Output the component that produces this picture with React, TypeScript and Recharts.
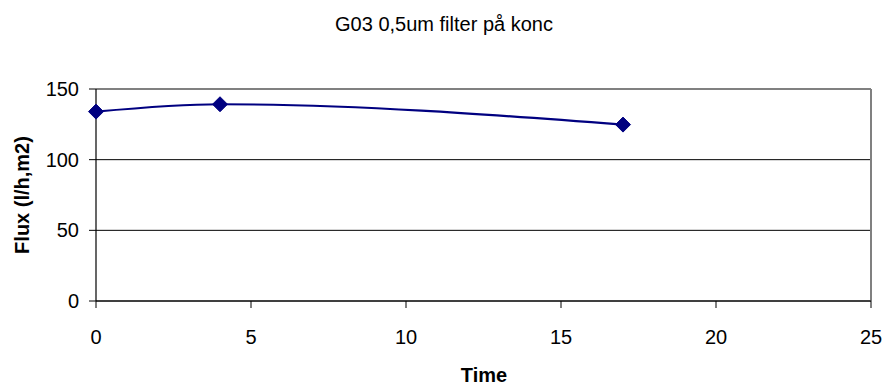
import React from "react";
import { LineChart, Line, XAxis, YAxis, CartesianGrid, ReferenceLine } from "recharts";

const timeValues = [0, 4, 17];
const fluxValues = [134, 139.2, 124.8];
const xTicks = [0, 5, 10, 15, 20, 25];
const yTicks = [0, 50, 100, 150];
const title = "G03 0,5um filter på konc";
const xLabel = "Time";
const yLabel = "Flux (l/h,m2)";

const data = timeValues.map((t, i) => ({ time: t, flux: fluxValues[i] }));

const FONT = "'Liberation Sans', Arial, sans-serif";
const NAVY = "#000080";

const Diamond = (props: any) => {
  const { cx, cy } = props;
  if (cx == null || cy == null) return null;
  const r = 7.5;
  return (
    <polygon
      points={`${cx},${cy - r} ${cx + r},${cy} ${cx},${cy + r} ${cx - r},${cy}`}
      fill={NAVY}
      stroke={NAVY}
      strokeWidth={1}
    />
  );
};

export default function App() {
  return (
    <div style={{ position: "absolute", left: 0, top: 0, width: 885, height: 385, background: "#fff", fontFamily: FONT }}>
      <LineChart
        width={885}
        height={385}
        data={data}
        margin={{ top: 89, right: 14, bottom: 44, left: 36 }}
      >
        <CartesianGrid horizontal={true} vertical={false} stroke="#000" strokeWidth={1} />
        <XAxis
          dataKey="time"
          type="number"
          domain={[0, 25]}
          ticks={xTicks}
          interval={0}
          height={40}
          tickSize={7}
          tickMargin={22}
          axisLine={{ stroke: "#000", strokeWidth: 1.2 }}
          tickLine={{ stroke: "#000" }}
          tick={{ fill: "#000", fontSize: 20, fontFamily: FONT }}
        />
        <YAxis
          type="number"
          domain={[0, 150]}
          ticks={yTicks}
          interval={0}
          width={60}
          tickSize={7}
          tickMargin={10}
          axisLine={{ stroke: "#000", strokeWidth: 1.2 }}
          tickLine={{ stroke: "#000" }}
          tick={{ fill: "#000", fontSize: 20, fontFamily: FONT }}
        />
        <ReferenceLine y={150} stroke="#808080" strokeWidth={2} />
        <ReferenceLine x={25} stroke="#808080" strokeWidth={2} />
        <Line
          type="monotone"
          dataKey="flux"
          stroke={NAVY}
          strokeWidth={2.2}
          dot={<Diamond />}
          activeDot={false}
          isAnimationActive={false}
        />
      </LineChart>
      <svg
        width={885}
        height={385}
        style={{ position: "absolute", left: 0, top: 0, pointerEvents: "none" }}
      >
        <text x={444} y={31} textAnchor="middle" fontSize={20} fontFamily={FONT} fill="#000">
          {title}
        </text>
        <text x={484} y={382} textAnchor="middle" fontSize={20} fontWeight="bold" fontFamily={FONT} fill="#000">
          {xLabel}
        </text>
        <text
          transform="translate(29,195) rotate(-90)"
          textAnchor="middle"
          fontSize={20}
          fontWeight="bold"
          fontFamily={FONT}
          fill="#000"
        >
          {yLabel}
        </text>
      </svg>
    </div>
  );
}
